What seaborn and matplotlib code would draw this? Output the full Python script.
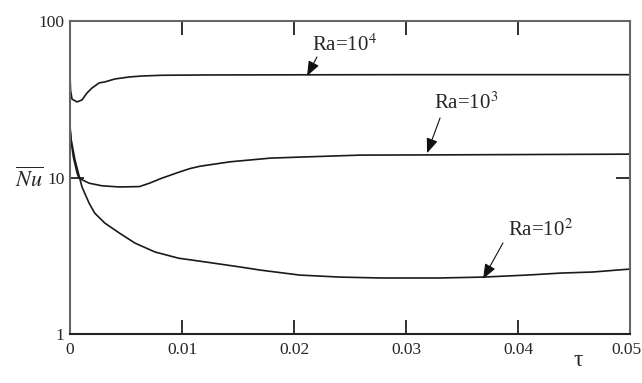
import matplotlib
matplotlib.use("Agg")
import matplotlib.pyplot as plt
import matplotlib.transforms as mtransforms
import seaborn as sns
import pandas as pd

# Data (tau, mean Nusselt number)
tau_ra4 = [0.0, 0.00005, 0.00018, 0.00063, 0.00107, 0.00152, 0.00196, 0.0026, 0.0031,
           0.004, 0.0053, 0.0064, 0.0082, 0.012, 0.02, 0.03, 0.05]
nu_ra4 = [45.2, 36.0, 31.7, 30.4, 31.3, 34.7, 37.3, 40.2, 40.8,
          42.6, 43.9, 44.5, 45.0, 45.2, 45.3, 45.4, 45.4]

tau_ra3 = [0.0, 0.0001, 0.0003, 0.00063, 0.0008, 0.0017, 0.00286, 0.0044, 0.0062, 0.0071,
           0.0082, 0.0097, 0.0107, 0.0116, 0.0143, 0.0179, 0.0205, 0.0259, 0.033, 0.05]
nu_ra3 = [21.0, 17.0, 13.5, 10.7, 9.9, 9.2, 8.85, 8.7, 8.75, 9.2,
          9.9, 10.8, 11.4, 11.8, 12.6, 13.3, 13.5, 13.9, 13.95, 14.1]

tau_ra2 = [0.0, 0.0001, 0.00045, 0.00107, 0.0017, 0.0022, 0.0031, 0.0044, 0.0058, 0.0076,
           0.0097, 0.0116, 0.0152, 0.017, 0.0205, 0.0241, 0.0277, 0.033, 0.0369, 0.0408,
           0.0438, 0.0467, 0.05]
nu_ra2 = [21.0, 17.5, 12.9, 8.7, 6.87, 5.93, 5.12, 4.42, 3.81, 3.34,
          3.05, 2.92, 2.68, 2.56, 2.38, 2.31, 2.28, 2.28, 2.31, 2.38,
          2.45, 2.49, 2.6]

labels = [r"Ra=10$^4$", r"Ra=10$^3$", r"Ra=10$^2$"]
x_ticks = [0, 0.01, 0.02, 0.03, 0.04, 0.05]
x_ticklabels = ["0", "0.01", "0.02", "0.03", "0.04", "0.05"]
y_ticks = [1, 10, 100]
y_ticklabels = ["1", "10", "100"]

df = pd.concat([
    pd.DataFrame({"tau": tau_ra4, "Nu": nu_ra4, "Ra": labels[0]}),
    pd.DataFrame({"tau": tau_ra3, "Nu": nu_ra3, "Ra": labels[1]}),
    pd.DataFrame({"tau": tau_ra2, "Nu": nu_ra2, "Ra": labels[2]}),
])

sns.set_style("ticks")
plt.rcParams["font.family"] = ["Liberation Serif", "DejaVu Serif"]
plt.rcParams["mathtext.fontset"] = "stix"

fig = plt.figure(figsize=(6.42, 3.83), dpi=100)
ax = fig.add_axes([70 / 642, 1 - 334 / 383, 560 / 642, 313 / 383])

sns.lineplot(data=df, x="tau", y="Nu", hue="Ra", units="Ra", estimator=None,
             palette=["#1a1a1a"] * 3, linewidth=1.2, legend=False, ax=ax, sort=False)

ax.set_yscale("log")
ax.set_xlim(0, 0.05)
ax.set_ylim(1, 100)
ax.set_xticks(x_ticks)
ax.set_xticklabels(x_ticklabels)
ax.set_yticks(y_ticks)
ax.set_yticklabels(y_ticklabels)
ax.yaxis.set_minor_locator(matplotlib.ticker.NullLocator())
ax.tick_params(axis="both", which="major", direction="in", length=10, width=1.3,
               top=True, right=True, labelsize=12.5, pad=6, color="#222222")
ax.tick_params(axis="y", pad=4)

# keep the last x tick label inside the figure
shift = mtransforms.ScaledTranslation(-4 / 100, 0, fig.dpi_scale_trans)
last = ax.get_xticklabels()[-1]
last.set_transform(last.get_transform() + shift)

for side, sp in ax.spines.items():
    sp.set_visible(True)
    sp.set_linewidth(1.5)
    sp.set_color("#666666" if side in ("top", "right", "left") else "#222222")

ax.set_xlabel("")
ax.set_ylabel("")
ax.text((578 - 70) / 560, -(360 - 334) / 313, "τ", transform=ax.transAxes,
        ha="center", va="center", fontsize=17)
ax.text(-(70 - 29) / 560, (334 - 180) / 313, r"$\overline{\mathit{Nu}}$",
        transform=ax.transAxes, ha="center", va="center", fontsize=16)

arrow = dict(arrowstyle="-|>,head_length=0.9,head_width=0.35", color="#111111",
             lw=0.8, shrinkA=0, shrinkB=0)
# labels
ax.text(0.02455, 70.3, labels[0], ha="center", va="center", fontsize=15)
ax.text(0.03536, 29.9, labels[1], ha="center", va="center", fontsize=15)
ax.text(0.04205, 4.62, labels[2], ha="center", va="center", fontsize=15)
# arrows (tail -> tip)
ax.annotate("", xy=(0.02116, 44.5), xytext=(0.02205, 58.9), arrowprops=arrow)
ax.annotate("", xy=(0.03188, 14.3), xytext=(0.03304, 24.0), arrowprops=arrow)
ax.annotate("", xy=(0.03688, 2.25), xytext=(0.03866, 3.82), arrowprops=arrow)

fig.savefig("out.png", dpi=100)
